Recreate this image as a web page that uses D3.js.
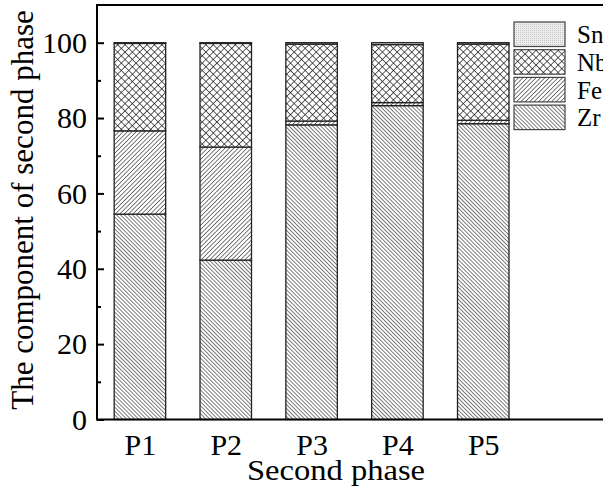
<!DOCTYPE html>
<html lang="en">
<head>
<meta charset="UTF-8">
<title>Second phase</title>
<style>
  body { margin: 0; background: #fff; }
  svg { display: block; font-family: "Liberation Serif", "Times New Roman", serif; }
</style>
</head>
<body>
<div id="chart"></div>
<script src="https://cdn.jsdelivr.net/npm/d3@7"></script>
<script>
// data (percent, stacked bottom -> top)
var phases = ["P1", "P2", "P3", "P4", "P5"];
var elements = ["Zr", "Fe", "Nb", "Sn"];
var zr = [54.5, 42.3, 78.2, 83.3, 78.5];
var fe = [22.1, 30.0, 1.0, 0.8, 0.9];
var nb = [23.2, 27.5, 20.4, 15.4, 20.2];
var sn = [0.2, 0.2, 0.4, 0.5, 0.4];
var yTicks = [0, 20, 40, 60, 80, 100];
var yMinor = [10, 30, 50, 70, 90];

var W = 603, H = 492;
var mLeft = 97, mTop = 5, mRight = 612, mBottom = 419.5;

var svg = d3.select("#chart").append("svg")
  .attr("width", W)
  .attr("height", H);

// hatch patterns
var defs = svg.append("defs");
function hatch(id, size, angle, sw) {
  var p = defs.append("pattern")
    .attr("id", id)
    .attr("patternUnits", "userSpaceOnUse")
    .attr("width", size).attr("height", size)
    .attr("patternTransform", "rotate(" + angle + ")");
  p.append("rect").attr("width", size).attr("height", size).attr("fill", "#fff");
  p.append("line")
    .attr("x1", 0).attr("y1", 0).attr("x2", 0).attr("y2", size)
    .attr("stroke", "#111").attr("stroke-width", sw);
  return p;
}
hatch("pat-Zr", 2.8, -45, 1.1);
hatch("pat-Fe", 3.1, 45, 1.1);
var cross = defs.append("pattern")
  .attr("id", "pat-Nb")
  .attr("patternUnits", "userSpaceOnUse")
  .attr("width", 5.2).attr("height", 5.2)
  .attr("patternTransform", "rotate(45)");
cross.append("rect").attr("width", 5.2).attr("height", 5.2).attr("fill", "#fff");
cross.append("path").attr("d", "M0,0V5.2M0,0H5.2")
  .attr("stroke", "#111").attr("stroke-width", 1.3).attr("fill", "none");
var dots = defs.append("pattern")
  .attr("id", "pat-Sn")
  .attr("patternUnits", "userSpaceOnUse")
  .attr("width", 2).attr("height", 2);
dots.append("rect").attr("width", 2).attr("height", 2).attr("fill", "#ececec");
dots.append("rect").attr("width", 1).attr("height", 1).attr("fill", "#c8c8c8");

var x = d3.scaleLinear().domain([0.5, 6.5]).range([mLeft, mRight]);
var y = d3.scaleLinear().domain([0, 110]).range([mBottom, mTop]);
var barW = x(0.6) - x(0);

var table = phases.map(function(p, i) {
  return { phase: p, i: i + 1, Zr: zr[i], Fe: fe[i], Nb: nb[i], Sn: sn[i] };
});
var stack = d3.stack().keys(elements)(table);

svg.append("g").selectAll("g")
  .data(stack)
  .join("g")
    .attr("fill", function(s) { return "url(#pat-" + s.key + ")"; })
  .selectAll("rect")
  .data(function(s) { return s; })
  .join("rect")
    .attr("x", function(d) { return x(d.data.i) - barW / 2; })
    .attr("y", function(d) { return y(d[1]); })
    .attr("width", barW)
    .attr("height", function(d) { return y(d[0]) - y(d[1]); })
    .attr("stroke", "#222")
    .attr("stroke-width", 1.3);

// frame
svg.append("rect")
  .attr("x", mLeft).attr("y", mTop)
  .attr("width", mRight - mLeft).attr("height", mBottom - mTop)
  .attr("fill", "none").attr("stroke", "#000").attr("stroke-width", 2);

// y axis, ticks pointing inward
var yAxis = svg.append("g")
  .attr("transform", "translate(" + mLeft + ",0)")
  .call(d3.axisLeft(y).tickValues(yTicks).tickSizeInner(-7).tickSizeOuter(0).tickPadding(10));
var yMinorAxis = svg.append("g")
  .attr("transform", "translate(" + mLeft + ",0)")
  .call(d3.axisLeft(y).tickValues(yMinor).tickSizeInner(-4).tickSizeOuter(0).tickFormat(""));
svg.selectAll(".domain").remove();
svg.selectAll(".tick line").attr("stroke", "#000").attr("stroke-width", 2);
yAxis.selectAll("text")
  .attr("font-size", 30)
  .attr("font-family", "Liberation Serif")
  .attr("fill", "#000");

// x axis labels
var xAxis = svg.append("g")
  .attr("transform", "translate(0," + mBottom + ")")
  .call(d3.axisBottom(x)
    .tickValues(phases.map(function(p, i) { return i + 1; }))
    .tickFormat(function(v) { return phases[v - 1]; })
    .tickSize(0).tickPadding(14));
xAxis.select(".domain").remove();
xAxis.selectAll("text")
  .attr("font-size", 30)
  .attr("font-family", "Liberation Serif")
  .attr("fill", "#000");

// axis titles
svg.append("text")
  .attr("x", 336).attr("y", 480)
  .attr("text-anchor", "middle")
  .attr("font-size", 30)
  .attr("textLength", 178)
  .attr("lengthAdjust", "spacingAndGlyphs")
  .text("Second phase");
svg.append("text")
  .attr("transform", "translate(33,210) rotate(-90)")
  .attr("text-anchor", "middle")
  .attr("font-size", 31)
  .text("The component of second phase");

// legend (top entry = last stacked series)
var legend = svg.append("g").selectAll("g")
  .data(elements.slice().reverse())
  .join("g")
    .attr("transform", function(d, i) { return "translate(514," + (22 + i * 27.7) + ")"; });
legend.append("rect")
  .attr("width", 51).attr("height", 24.5)
  .attr("fill", function(d) { return "url(#pat-" + d + ")"; })
  .attr("stroke", "#444").attr("stroke-width", 1.2);
legend.append("text")
  .attr("x", 63).attr("y", 12.5)
  .attr("dy", "0.35em")
  .attr("font-size", 25)
  .text(function(d) { return d; });
</script>
</body>
</html>
